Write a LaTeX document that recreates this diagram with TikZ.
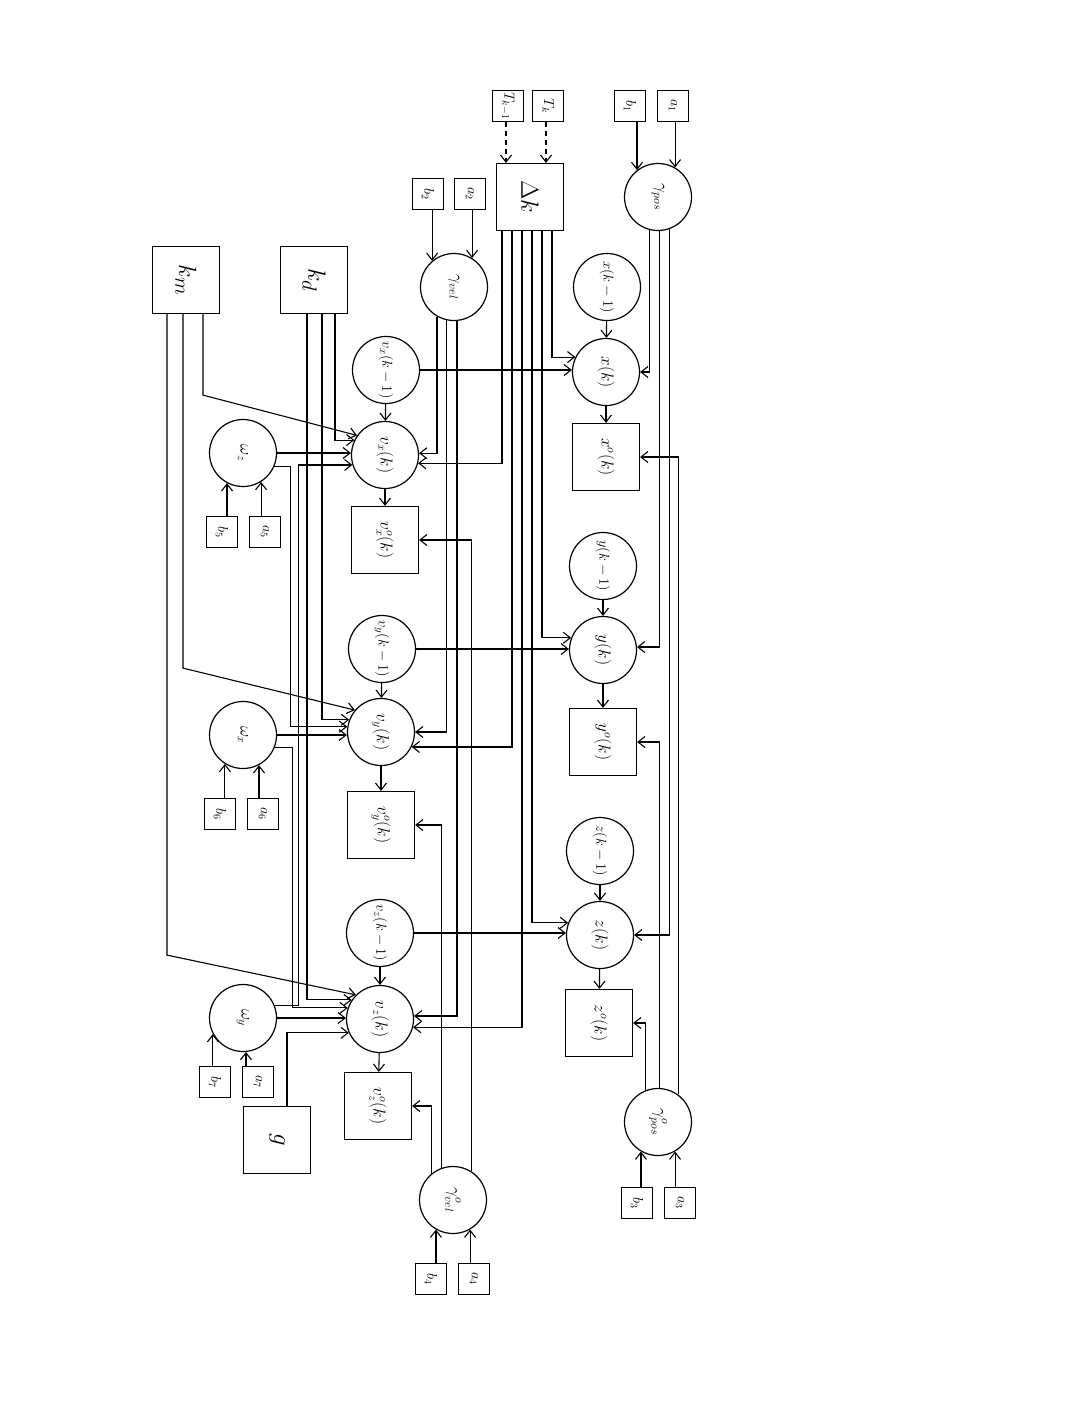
\documentclass[tikz,border=0pt]{standalone}
\usepackage{graphicx}
\usetikzlibrary{arrows.meta}
\newcommand{\rtx}[1]{\rotatebox{-90}{#1}}
\begin{document}
\begin{tikzpicture}[x=1pt,y=-1pt,
  circ/.style={draw, circle, minimum size=67pt, inner sep=0pt, line width=1.2pt, font=\fontsize{18}{21}\selectfont},
  circp/.style={circ, font=\fontsize{15}{18}\selectfont},
  bigbox/.style={draw, rectangle, minimum width=67pt, minimum height=67pt, inner sep=0pt, line width=1.2pt, font=\fontsize{18}{21}\selectfont},
  hugebox/.style={bigbox, font=\fontsize{30}{34}\selectfont},
  smallbox/.style={draw, rectangle, minimum width=31pt, minimum height=31pt, inner sep=0pt, line width=1.2pt, font=\fontsize{14}{16}\selectfont},
  conn/.style={line width=1.1pt, -{Straight Barb[length=7pt,width=11pt]}},
  dconn/.style={conn, dash pattern=on 5pt off 4pt}
]
\fill[white] (0,0) rectangle (1080,1418);
\useasboundingbox (0,0) rectangle (1080,1418);

% ---- top inputs
\node[smallbox] (tk1) at (508,106) {\rtx{$T_{k-1}$}};
\node[smallbox] (tk)  at (548,106) {\rtx{$T_{k}$}};
\node[hugebox]  (dk)  at (530,197) {\rtx{$\Delta k$}};
\node[smallbox] (b1)  at (630,106) {\rtx{$b_1$}};
\node[smallbox] (a1)  at (673,106) {\rtx{$a_1$}};
\node[circ]     (gp)  at (658,197) {\rtx{$\gamma_{pos}$}};
\node[smallbox] (b2)  at (428,194) {\rtx{$b_2$}};
\node[smallbox] (a2)  at (470,194) {\rtx{$a_2$}};
\node[circ]     (gv)  at (454,287) {\rtx{$\gamma_{vel}$}};
\node[hugebox]  (km)  at (186,280) {\rtx{$k_m$}};
\node[hugebox]  (kd)  at (314,280) {\rtx{$k_d$}};

% ---- omegas
\node[circ]     (wz)  at (243,453) {\rtx{$\omega_z$}};
\node[smallbox] (b5)  at (222,532) {\rtx{$b_5$}};
\node[smallbox] (a5)  at (265,532) {\rtx{$a_5$}};
\node[circ]     (wx)  at (243,735) {\rtx{$\omega_x$}};
\node[smallbox] (b6)  at (220,814) {\rtx{$b_6$}};
\node[smallbox] (a6)  at (263,814) {\rtx{$a_6$}};
\node[circ]     (wy)  at (243,1018) {\rtx{$\omega_y$}};
\node[smallbox] (b7)  at (215,1082) {\rtx{$b_7$}};
\node[smallbox] (a7)  at (258,1082) {\rtx{$a_7$}};
\node[hugebox]  (g)   at (277,1140) {\rtx{$g$}};

% ---- velocities
\node[circp]  (vxp) at (386,370) {\rtx{$v_x(k-1)$}};
\node[circ]   (vx)  at (385,455) {\rtx{$v_x(k)$}};
\node[bigbox] (vxo) at (385,540) {\rtx{$v_x^{o}(k)$}};
\node[circp]  (vyp) at (382,649) {\rtx{$v_y(k-1)$}};
\node[circ]   (vy)  at (381,732) {\rtx{$v_y(k)$}};
\node[bigbox] (vyo) at (381,825) {\rtx{$v_y^{o}(k)$}};
\node[circp]  (vzp) at (380,933) {\rtx{$v_z(k-1)$}};
\node[circ]   (vz)  at (380,1019) {\rtx{$v_z(k)$}};
\node[bigbox] (vzo) at (378,1106) {\rtx{$v_z^{o}(k)$}};
\node[circ]     (gvo) at (453,1200) {\rtx{$\gamma^{o}_{vel}$}};
\node[smallbox] (b4)  at (431,1279) {\rtx{$b_4$}};
\node[smallbox] (a4)  at (474,1279) {\rtx{$a_4$}};

% ---- positions
\node[circp]  (xp) at (607,287) {\rtx{$x(k-1)$}};
\node[circ]   (x)  at (606,372) {\rtx{$x(k)$}};
\node[bigbox] (xo) at (606,457) {\rtx{$x^{o}(k)$}};
\node[circp]  (yp) at (603,566) {\rtx{$y(k-1)$}};
\node[circ]   (y)  at (603,650) {\rtx{$y(k)$}};
\node[bigbox] (yo) at (603,742) {\rtx{$y^{o}(k)$}};
\node[circp]  (zp) at (600,851) {\rtx{$z(k-1)$}};
\node[circ]   (z)  at (600,935) {\rtx{$z(k)$}};
\node[bigbox] (zo) at (599,1023) {\rtx{$z^{o}(k)$}};
\node[circ]     (gpo) at (658,1122) {\rtx{$\gamma^{o}_{pos}$}};
\node[smallbox] (b3)  at (637,1203) {\rtx{$b_3$}};
\node[smallbox] (a3)  at (680,1203) {\rtx{$a_3$}};

% ---- small box inputs
\draw[dconn] ([xshift=-2pt]tk1.south) -- ([xshift=-2pt]tk1.south |- dk.north);
\draw[dconn] ([xshift=-2pt]tk.south) -- ([xshift=-2pt]tk.south |- dk.north);
\draw[conn] (b1.south -| gp.128) -- (gp.128);
\draw[conn] (a1.south -| gp.60) -- (gp.60);
\draw[conn] (b2.south -| gv.130) -- (gv.130);
\draw[conn] (a2.south -| gv.58) -- (gv.58);
\draw[conn] (b5.north -| wz.-118) -- (wz.-118);
\draw[conn] (a5.north -| wz.-58) -- (wz.-58);
\draw[conn] (b6.north -| wx.-122) -- (wx.-122);
\draw[conn] (a6.north -| wx.-62) -- (wx.-62);
\draw[conn] (b7.north -| wy.-152) -- (wy.-152);
\draw[conn] (a7.north -| wy.-85) -- (wy.-85);
\draw[conn] (b4.north -| gvo.-120) -- (gvo.-120);
\draw[conn] (a4.north -| gvo.-60) -- (gvo.-60);
\draw[conn] (b3.north -| gpo.-120) -- (gpo.-120);
\draw[conn] (a3.north -| gpo.-60) -- (gpo.-60);

% ---- chains
\draw[conn] (vxp) -- (vx);  \draw[conn] (vx) -- (vxo);
\draw[conn] (vyp) -- (vy);  \draw[conn] (vy) -- (vyo);
\draw[conn] (vzp) -- (vz);  \draw[conn] (vz) -- (vzo);
\draw[conn] (xp) -- (x);    \draw[conn] (x) -- (xo);
\draw[conn] (yp) -- (y);    \draw[conn] (y) -- (yo);
\draw[conn] (zp) -- (z);    \draw[conn] (z) -- (zo);
\draw[conn] (vxp.east) -- (vxp.east -| x.west);
\draw[conn] (vyp.east) -- (vyp.east -| y.west);
\draw[conn] (vzp.east) -- (vzp.east -| z.west);

% ---- Delta k
\draw[conn] ([xshift=-28pt]dk.south) |- (vx.-14);
\draw[conn] ([xshift=-18pt]dk.south) |- (vy.-26);
\draw[conn] ([xshift=-8pt]dk.south)  |- (vz.-14);
\draw[conn] ([xshift=2pt]dk.south)   |- (z.159);
\draw[conn] ([xshift=12pt]dk.south)  |- (y.159);
\draw[conn] ([xshift=22pt]dk.south)  |- (x.154);

% ---- gamma vel / pos
\draw[conn] (gv.-120) |- (vx.3);
\draw[conn] (gv.-102) |- (vy.east);
\draw[conn] (gv.-85)  |- (vz.5);
\draw[conn] (gvo.58)  |- (vxo.east);
\draw[conn] (gvo.109) |- (vyo.east);
\draw[conn] (gvo.130) |- (vzo.east);
\draw[conn] (gp.-104) |- (x.east);
\draw[conn] (gp.-87)  |- (y.5);
\draw[conn] (gp.-71)  |- (z.east);
\draw[conn] (gpo.54)  |- (xo.east);
\draw[conn] (gpo.88)  |- (yo.east);
\draw[conn] (gpo.112) |- (zo.east);

% ---- k_m, k_d
\draw[conn] ([xshift=17pt]km.south) -- ++(0,81) -- (vx.145);
\draw[conn] ([xshift=-3pt]km.south) -- ++(0,354) -- (vy.140);
\draw[conn] ([xshift=-19pt]km.south) -- ++(0,641) -- (vz.135);
\draw[conn] ([xshift=21pt]kd.south) |- (vx.154);
\draw[conn] ([xshift=8pt]kd.south)  |- (vy.159);
\draw[conn] ([xshift=-7pt]kd.south) |- (vz.146);

% ---- omegas, g
\draw[conn] (wz.east) -- (wz.east -| vx.west);
\draw[conn] (wz.-24) -- ++(16,0) |- (vy.171);
\draw[conn] (wx.east) -- (wx.east -| vy.west);
\draw[conn] (wx.-22) -- ++(18,0) |- (vz.161);
\draw[conn] (wy.east) -- (wy.east -| vz.west);
\draw[conn] (wy.22) -- ++(24,0) |- (vx.197);
\draw[conn] ([xshift=10pt]g.north) |- (vz.204);
\end{tikzpicture}
\end{document}
